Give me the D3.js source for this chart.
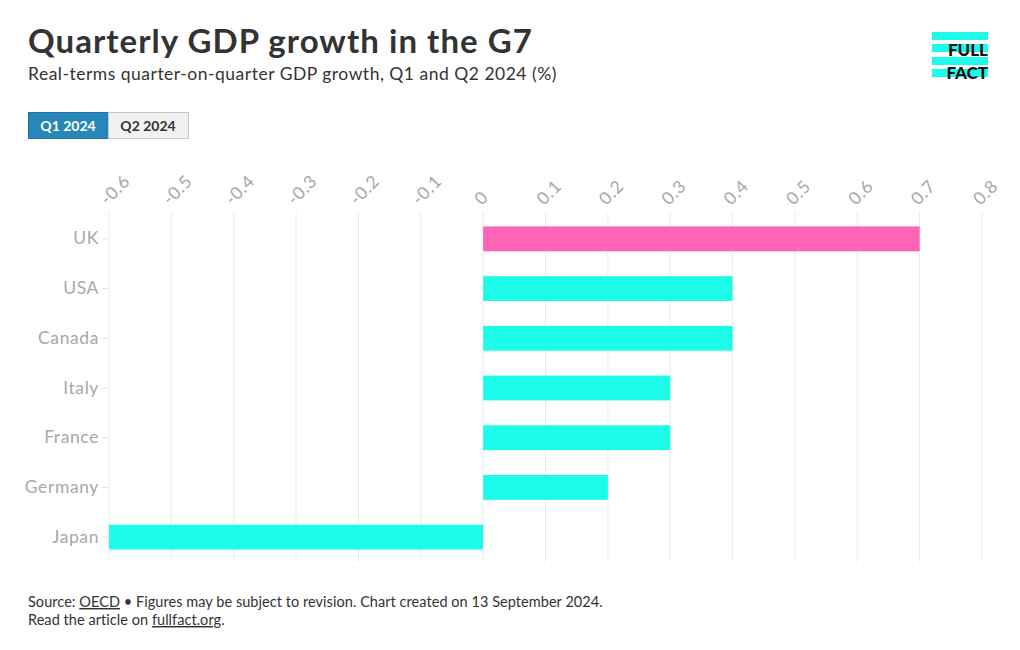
<!DOCTYPE html>
<html>
<head>
<meta charset="utf-8">
<script src="https://cdn.jsdelivr.net/npm/d3@7"></script>
<style>
  html, body { margin: 0; padding: 0; background: #fff; }
  svg { display: block; font-family: "Lato", "Noto Sans", sans-serif; }
</style>
</head>
<body>
<svg id="chart" width="1020" height="650"></svg>
<script>
const categories = ["UK", "USA", "Canada", "Italy", "France", "Germany", "Japan"];
const q1Values = [0.7, 0.4, 0.4, 0.3, 0.3, 0.2, -0.6];
const highlight = ["UK"];
const xTicks = [-0.6, -0.5, -0.4, -0.3, -0.2, -0.1, 0, 0.1, 0.2, 0.3, 0.4, 0.5, 0.6, 0.7, 0.8];
const buttons = ["Q1 2024", "Q2 2024"];

const svg = d3.select("#chart");
const plotLeft = 109, plotRight = 982, plotTop = 214, plotBottom = 562;

// Title and subtitle
svg.append("text").attr("x", 28).attr("y", 53)
  .attr("font-size", 33).attr("font-weight", 700).attr("fill", "#333")
  .attr("letter-spacing", 1.05)
  .text("Quarterly GDP growth in the G7");
svg.append("text").attr("x", 28).attr("y", 80)
  .attr("font-size", 17.5).attr("fill", "#333")
  .attr("letter-spacing", 0.5)
  .text("Real-terms quarter-on-quarter GDP growth, Q1 and Q2 2024 (%)");

// Logo
const logo = svg.append("g");
[[32, 8], [44, 8], [57, 8], [69, 8]].forEach(([yy, h]) => {
  logo.append("rect").attr("x", 932).attr("y", yy).attr("width", 56).attr("height", h).attr("fill", "#1cfce8");
});
logo.append("text").attr("x", 988).attr("y", 56).attr("text-anchor", "end")
  .attr("font-size", 17).attr("font-weight", 900).attr("fill", "#111").text("FULL");
logo.append("text").attr("x", 988).attr("y", 79).attr("text-anchor", "end")
  .attr("font-size", 17).attr("font-weight", 900).attr("fill", "#111").text("FACT");

// Buttons
buttons.forEach((b, i) => {
  const g = svg.append("g").attr("transform", `translate(${28 + i * 80},112)`);
  g.append("rect").attr("x", 0.5).attr("y", 0.5).attr("width", 80).attr("height", 26)
    .attr("fill", i === 0 ? "#2886b9" : "#f1f1f1")
    .attr("stroke", i === 0 ? "#1f75a3" : "#c8c8c8");
  g.append("text").attr("x", 40).attr("y", 18.5).attr("text-anchor", "middle")
    .attr("font-size", 14).attr("font-weight", 700)
    .attr("fill", i === 0 ? "#fff" : "#333").text(b);
});

// Scales
const x = d3.scaleLinear().domain([-0.6, 0.8]).range([plotLeft, plotRight]);
const y = d3.scaleBand().domain(categories).range([plotTop, plotBottom]).paddingInner(0.5).paddingOuter(0.25);

// Gridlines
const grid = svg.append("g");
grid.selectAll("line").data(xTicks).join("line")
  .attr("x1", d => x(d)).attr("x2", d => x(d))
  .attr("y1", 212).attr("y2", plotBottom)
  .attr("stroke", "#ebebeb").attr("stroke-width", 1);

// X axis labels (top, rotated)
const xAxis = d3.axisTop(x).tickValues(xTicks).tickSize(0).tickFormat(d => String(+d.toFixed(1)));
const gx = svg.append("g").attr("transform", `translate(0,${plotTop})`).call(xAxis);
gx.select(".domain").remove();
gx.selectAll("text")
  .attr("font-family", "Lato, sans-serif")
  .attr("font-size", 17.5).attr("fill", "#a8a8a8")
  .attr("letter-spacing", 0.6)
  .attr("text-anchor", "start")
  .attr("dy", null).attr("y", 0)
  .attr("transform", "translate(-2,-8) rotate(-45)");

// Y axis
const yAxis = d3.axisLeft(y).tickSize(6).tickPadding(3);
const gy = svg.append("g").attr("transform", `translate(${plotLeft - 1},0)`).call(yAxis);
gy.select(".domain").remove();
gy.selectAll(".tick line").attr("stroke", "#e0e0e0");
gy.selectAll("text").attr("font-family", "Lato, sans-serif").attr("font-size", 17.5)
  .attr("letter-spacing", 0.6).attr("fill", "#a8a8a8");

// Bars
svg.append("g").selectAll("rect").data(categories.map((c, i) => ({c, v: q1Values[i]}))).join("rect")
  .attr("x", d => x(Math.min(0, d.v)))
  .attr("width", d => Math.abs(x(d.v) - x(0)))
  .attr("y", d => y(d.c))
  .attr("height", y.bandwidth())
  .attr("fill", d => highlight.includes(d.c) ? "#ff64b4" : "#1cfce8");

// Footer
const f1 = svg.append("text").attr("x", 28).attr("y", 607).attr("font-size", 14.5).attr("fill", "#333")
  .attr("letter-spacing", 0.05);
f1.append("tspan").text("Source: ");
f1.append("tspan").attr("text-decoration", "underline").text("OECD");
f1.append("tspan").text(" \u2022 Figures may be subject to revision. Chart created on 13 September 2024.");
const f2 = svg.append("text").attr("x", 28).attr("y", 625).attr("font-size", 14.5).attr("fill", "#333")
  .attr("letter-spacing", 0.05);
f2.append("tspan").text("Read the article on ");
f2.append("tspan").attr("text-decoration", "underline").text("fullfact.org");
f2.append("tspan").text(".");
</script>
</body>
</html>
